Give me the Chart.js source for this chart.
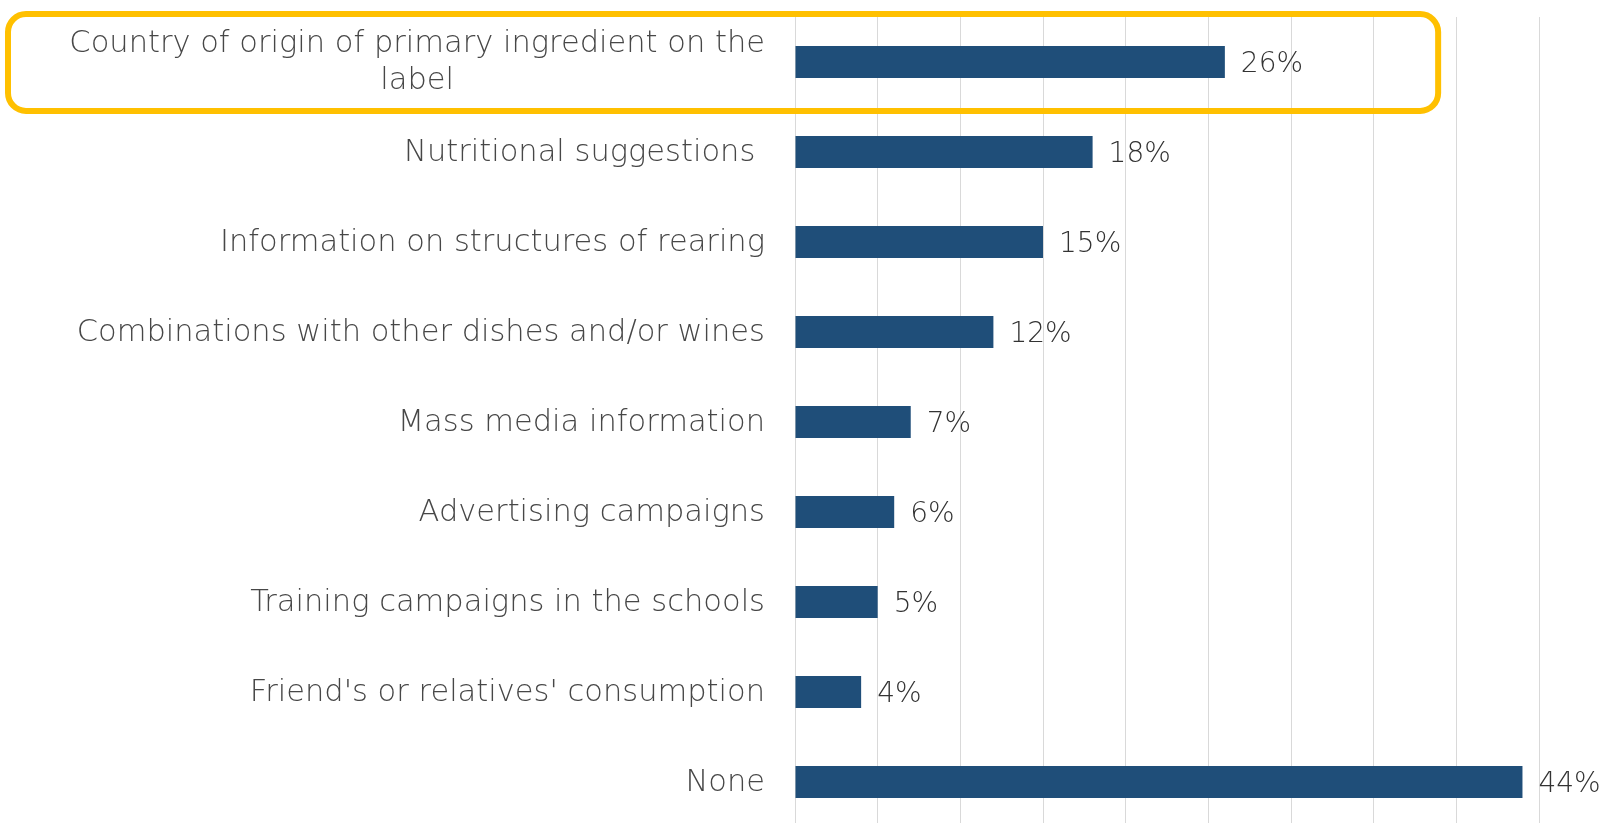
<!DOCTYPE html>
<html>
<head>
<meta charset="utf-8">
<script src="https://cdn.jsdelivr.net/npm/chart.js@4/dist/chart.umd.min.js"></script>
<style>
  html, body { margin: 0; padding: 0; background: #ffffff; overflow: hidden; }
  #wrap { width: 1612px; height: 823px; overflow: hidden; }
</style>
</head>
<body>
<div id="wrap"><canvas id="chart" width="1612" height="830"></canvas></div>
<script>
// Survey answers: share of respondents per information source
const categories = [
  ['Country of origin of primary ingredient on the', 'label'],
  'Nutritional suggestions ',
  'Information on structures of rearing',
  'Combinations with other dishes and/or wines',
  'Mass media information',
  'Advertising campaigns',
  'Training campaigns in the schools',
  "Friend's or relatives' consumption",
  'None'
];
const shares = [26, 18, 15, 12, 7, 6, 5, 4, 44];
const axisMax = 45;
const gridStep = 5;
const highlightedIndex = 0;
const highlightUntil = 38.9;

const labelFont = '300 30.5px "DejaVu Sans"';
const valueFont = '300 28px "DejaVu Sans"';

// Category names left of the plot; wrapped names are centred on their widest line
const categoryLabels = {
  id: 'categoryLabels',
  afterDraw(chart) {
    const { ctx, chartArea, scales } = chart;
    const right = chartArea.left - 30;
    const lineH = 37;
    ctx.save();
    ctx.font = labelFont;
    ctx.fillStyle = '#474747';
    ctx.textBaseline = 'middle';
    categories.forEach((cat, i) => {
      const lines = Array.isArray(cat) ? cat : [cat];
      const cy = scales.y.getPixelForValue(i);
      const widest = Math.max(...lines.map(l => ctx.measureText(l).width));
      const cx = right - widest / 2;
      const y0 = cy - (lines.length - 1) * lineH / 2 + 1;
      ctx.textAlign = lines.length > 1 ? 'center' : 'right';
      lines.forEach((l, k) => {
        ctx.fillText(l, lines.length > 1 ? cx : right, y0 + k * lineH);
      });
    });
    ctx.restore();
  }
};

// Percentage printed just past the end of each bar
const valueLabels = {
  id: 'valueLabels',
  afterDatasetsDraw(chart) {
    const { ctx, scales } = chart;
    ctx.save();
    ctx.font = valueFont;
    ctx.fillStyle = '#333333';
    ctx.textAlign = 'left';
    ctx.textBaseline = 'middle';
    shares.forEach((v, i) => {
      ctx.fillText(v + '%', scales.x.getPixelForValue(v) + 16, scales.y.getPixelForValue(i) + 3);
    });
    ctx.restore();
  }
};

// Rounded yellow frame around the highlighted answer
const highlightFrame = {
  id: 'highlightFrame',
  afterDraw(chart) {
    const { ctx, scales } = chart;
    const cy = scales.y.getPixelForValue(highlightedIndex);
    const left = 8;
    const right = scales.x.getPixelForValue(highlightUntil);
    const top = cy - 48;
    const bottom = cy + 49;
    ctx.save();
    ctx.strokeStyle = '#ffc000';
    ctx.lineWidth = 6;
    ctx.beginPath();
    ctx.roundRect(left, top, right - left, bottom - top, 18);
    ctx.stroke();
    ctx.restore();
  }
};

new Chart(document.getElementById('chart'), {
  type: 'bar',
  data: {
    labels: categories,
    datasets: [{
      data: shares,
      backgroundColor: '#1f4e79',
      borderWidth: 0,
      categoryPercentage: 1,
      barPercentage: 0.355
    }]
  },
  options: {
    indexAxis: 'y',
    responsive: false,
    animation: false,
    layout: { padding: { top: 17, left: 795, right: 73, bottom: 3 } },
    plugins: {
      legend: { display: false },
      tooltip: { enabled: false }
    },
    scales: {
      x: {
        min: 0,
        max: axisMax,
        ticks: { display: false, stepSize: gridStep },
        grid: { color: '#d9d9d9', lineWidth: 1, drawTicks: false },
        border: { display: false }
      },
      y: {
        display: false
      }
    }
  },
  plugins: [categoryLabels, valueLabels, highlightFrame]
});
</script>
</body>
</html>
